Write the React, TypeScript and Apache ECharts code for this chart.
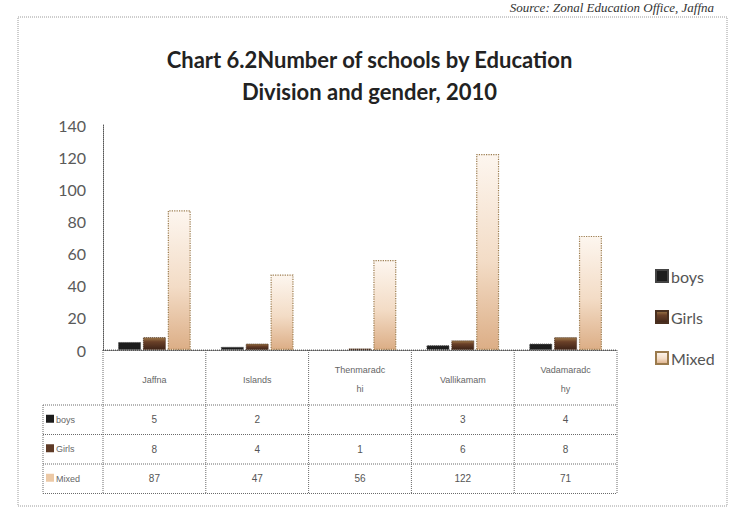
import React, { useEffect, useRef } from "react";
import * as echarts from "echarts";

const categories = ["Jaffna", "Islands", "Thenmaradchi", "Vallikamam", "Vadamaradchy"];
const tableHeaders = ["Jaffna", "Islands", "Thenmaradc\nhi", "Vallikamam", "Vadamaradc\nhy"];
const seriesNames = ["boys", "Girls", "Mixed"];
const boys: (number | null)[] = [5, 2, null, 3, 4];
const girls: (number | null)[] = [8, 4, 1, 6, 8];
const mixed: (number | null)[] = [87, 47, 56, 122, 71];
const yMin = 0;
const yMax = 140;
const yInterval = 20;

const titleText = "Chart 6.2Number of schools by Education\nDivision and gender, 2010";
const sourceText = "Source: Zonal Education Office, Jaffna";

const colors = ["#1c1c1c", "#5e3a26", "#ecc9a6"];

export default function App() {
  const ref = useRef<HTMLDivElement>(null);
  useEffect(() => {
    if (!ref.current) return;
    const chart = echarts.init(ref.current, null, { renderer: "svg" });
    const gridLeft = 103;
    const gridRight = 122;
    const gridTop = 125;
    const gridBottom = 166;
    chart.setOption({
      animation: false,
      backgroundColor: "#ffffff",
      title: {
        text: titleText,
        left: "center",
        top: 38,
        textStyle: {
          fontFamily: "Lato",
          fontWeight: "bold",
          fontSize: 22,
          lineHeight: 32,
          color: "#222222",
        },
      },
      legend: {
        orient: "vertical",
        left: 650,
        top: 263,
        itemWidth: 12,
        itemHeight: 12,
        itemGap: 25,
        icon: "rect",
        data: seriesNames,
        textStyle: { fontFamily: "Lato", fontSize: 16, color: "#555555", padding: [0, 0, 0, -2] },
      },
      grid: { left: gridLeft, right: gridRight, top: gridTop, bottom: gridBottom },
      xAxis: {
        type: "category",
        data: categories,
        axisLine: { show: true, lineStyle: { color: "#555555", type: "dotted", width: 1 } },
        axisTick: { show: false },
        axisLabel: { show: false },
        splitLine: { show: false },
      },
      yAxis: {
        type: "value",
        min: yMin,
        max: yMax,
        interval: yInterval,
        axisLine: { show: true, lineStyle: { color: "#555555", type: "dotted", width: 1 } },
        axisTick: { show: false },
        splitLine: { show: false },
        axisLabel: { fontFamily: "Lato", fontSize: 16, color: "#5a5a5a", margin: 17 },
      },
      series: [
        {
          name: seriesNames[0],
          type: "bar",
          data: boys,
          barWidth: 23,
          barGap: "8%",
          itemStyle: { color: colors[0], borderColor: "#444444", borderWidth: 1, borderType: "dotted" },
        },
        {
          name: seriesNames[1],
          type: "bar",
          data: girls,
          barWidth: 23,
          itemStyle: {
            color: new echarts.graphic.LinearGradient(0, 0, 0, 1, [
              { offset: 0, color: "#a07a4a" },
              { offset: 0.35, color: "#6a4028" },
              { offset: 1, color: "#3e2418" },
            ]),
            borderColor: "#4a3020",
            borderWidth: 1,
            borderType: "dotted",
          },
        },
        {
          name: seriesNames[2],
          type: "bar",
          data: mixed,
          barWidth: 23,
          itemStyle: {
            color: new echarts.graphic.LinearGradient(0, 0, 0, 1, [
              { offset: 0, color: "#fdf6ef" },
              { offset: 0.55, color: "#f3dcc6" },
              { offset: 1, color: "#dcae86" },
            ]),
            borderColor: "#9a7a4c",
            borderWidth: 1.2,
            borderType: "dotted",
          },
        },
      ],
    });

    // Data table under the plot, positioned through the chart's own axes
    const centers = categories.map((c) => chart.convertToPixel({ xAxisIndex: 0 }, c) as number);
    const catW = centers.length > 1 ? centers[1] - centers[0] : 100;
    const y0 = chart.convertToPixel({ yAxisIndex: 0 }, 0) as number;
    const headerH = 55;
    const rowH = 29.5;
    const rows = [boys, girls, mixed];
    const tableLeft = centers[0] - catW / 2;
    const tableRight = centers[centers.length - 1] + catW / 2;
    const rowLabelLeft = 43;
    const tableBottom = y0 + headerH + rowH * rows.length;
    const lineStyle = { stroke: "#6a6a6a", lineWidth: 1, lineDash: [1, 1] };
    const g: any[] = [];
    // frame
    g.push({
      type: "rect",
      silent: true,
      shape: { x: 18, y: 17, width: 709, height: 489 },
      style: { fill: "none", stroke: "#9a9a9a", lineWidth: 1, lineDash: [1, 1] },
    });
    g.push({
      type: "text",
      silent: true,
      x: 714,
      y: 1,
      style: {
        text: sourceText,
        font: 'italic 13px "Liberation Serif"',
        fill: "#333333",
        align: "right",
        verticalAlign: "top",
      },
    });
    // vertical lines
    for (let i = 0; i <= categories.length; i++) {
      const x = tableLeft + i * catW;
      g.push({ type: "line", silent: true, shape: { x1: x, y1: y0, x2: x, y2: tableBottom }, style: lineStyle });
    }
    g.push({
      type: "line",
      silent: true,
      shape: { x1: rowLabelLeft, y1: y0 + headerH, x2: rowLabelLeft, y2: tableBottom },
      style: lineStyle,
    });
    // horizontal lines
    g.push({ type: "line", silent: true, shape: { x1: tableLeft, y1: y0, x2: tableRight, y2: y0 }, style: lineStyle });
    for (let r = 0; r <= rows.length; r++) {
      const y = y0 + headerH + r * rowH;
      g.push({ type: "line", silent: true, shape: { x1: rowLabelLeft, y1: y, x2: tableRight, y2: y }, style: lineStyle });
    }
    // headers
    tableHeaders.forEach((h, i) => {
      g.push({
        type: "text",
        silent: true,
        x: centers[i],
        y: y0 + headerH / 2 + 2,
        style: {
          text: h,
          font: '9px "Liberation Sans"',
          fill: "#666666",
          align: "center",
          verticalAlign: "middle",
          lineHeight: 19,
        },
      });
    });
    // rows
    rows.forEach((vals, r) => {
      const cy = y0 + headerH + r * rowH + rowH / 2;
      g.push({
        type: "rect",
        silent: true,
        shape: { x: rowLabelLeft + 3, y: cy - 5, width: 8, height: 8 },
        style: { fill: colors[r] },
      });
      g.push({
        type: "text",
        silent: true,
        x: rowLabelLeft + 13,
        y: cy,
        style: {
          text: seriesNames[r],
          font: '9px "Liberation Sans"',
          fill: "#666666",
          align: "left",
          verticalAlign: "middle",
        },
      });
      vals.forEach((v, i) => {
        if (v === null) return;
        g.push({
          type: "text",
          silent: true,
          x: centers[i],
          y: cy,
          style: {
            text: String(v),
            font: '10px "Liberation Sans"',
            fill: "#555555",
            align: "center",
            verticalAlign: "middle",
          },
        });
      });
    });
    chart.setOption({ graphic: { elements: g } });
    return () => chart.dispose();
  }, []);
  return (
    <div
      ref={ref}
      style={{ position: "fixed", left: 0, top: 0, width: 739, height: 516, background: "#ffffff" }}
    />
  );
}
